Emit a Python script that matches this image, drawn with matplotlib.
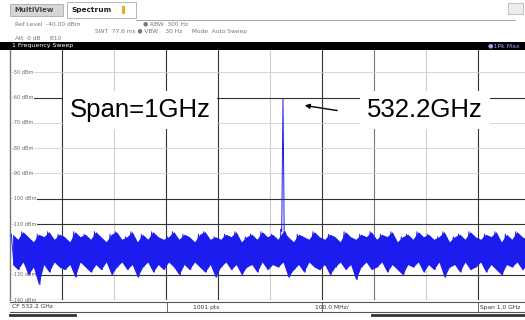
import matplotlib.pyplot as plt
import matplotlib.patches as patches
import numpy as np

W, H = 525, 320

# sweep settings
center_ghz = 532.2
span_ghz = 1.0
ref_level = -41.2
grid_db = [-50, -60, -70, -80, -90, -100, -110, -120, -130, -140]
grid_labels = ['-50 dBm', '-60 dBm', '-70 dBm', '-80 dBm', '-90 dBm',
               '-100 dBm', '-110 dBm', '-120 dBm', '-130 dBm', '-140 dBm']

# noise floor envelope per 10 MHz bin (max / min of the trace, dBm)
noise_hi = [-114, -116, -113, -115, -117, -114, -115, -113, -116, -114,
            -115, -117, -113, -115, -114, -116, -113, -115, -117, -114,
            -113, -116, -115, -113, -117, -114, -116, -113, -115, -116,
            -115, -113, -116, -114, -115, -117, -114, -113, -116, -115,
            -116, -114, -115, -113, -117, -115, -114, -116, -113, -115,
            -114, -116, -113, -115, -117, -114, -115, -116, -113, -115,
            -116, -114, -115, -117, -113, -115, -116, -114, -115, -113,
            -116, -114, -115, -113, -117, -115, -114, -116, -113, -115,
            -114, -116, -115, -113, -117, -115, -114, -116, -113, -115,
            -116, -114, -115, -113, -117, -114, -116, -113, -115, -116]
noise_lo = [-126, -128, -125, -130, -127, -134, -126, -129, -125, -127,
            -128, -126, -131, -125, -127, -129, -126, -128, -125, -130,
            -127, -125, -128, -126, -131, -127, -125, -129, -126, -128,
            -125, -127, -130, -126, -128, -125, -127, -129, -126, -131,
            -127, -125, -128, -126, -130, -127, -126, -129, -125, -128,
            -126, -127, -125, -131, -128, -126, -129, -125, -127, -128,
            -126, -130, -127, -125, -128, -126, -132, -127, -125, -128,
            -127, -125, -129, -126, -128, -130, -126, -127, -125, -129,
            -126, -128, -125, -131, -127, -126, -129, -125, -128, -127,
            -125, -129, -126, -128, -130, -126, -127, -125, -128, -126]

# carrier line
peak_freq = [532.221, 532.2235, 532.225, 532.2265, 532.229]
peak_level = [-112, -92, -60.5, -94, -113]

fig = plt.figure(figsize=(W / 100, H / 100), dpi=100)
fig.patch.set_facecolor('white')


def fx(x):
    return x / W


def fy(y):
    return 1 - y / H


def rect(x0, y0, x1, y1, **kw):
    fig.patches.append(patches.Rectangle((fx(x0), fy(y1)), (x1 - x0) / W, (y1 - y0) / H,
                                         transform=fig.transFigure, **kw))


def hline(x0, x1, y, **kw):
    fig.add_artist(plt.Line2D([fx(x0), fx(x1)], [fy(y), fy(y)], transform=fig.transFigure, **kw))


def vline(x, y0, y1, **kw):
    fig.add_artist(plt.Line2D([fx(x), fx(x)], [fy(y0), fy(y1)], transform=fig.transFigure, **kw))


small = dict(fontsize=4.2, color='#777777', family='DejaVu Sans', va='center')

# tabs
rect(10, 4, 63, 16, facecolor='#d6d6d6', edgecolor='#aaaaaa', lw=0.6)
fig.text(fx(14), fy(10), 'MultiView', fontsize=5, weight='bold', color='#444444', va='center')
rect(67, 2, 136, 18, facecolor='white', edgecolor='#aaaaaa', lw=0.6)
fig.text(fx(72), fy(10), 'Spectrum', fontsize=5.3, weight='bold', color='#222222', va='center')
rect(122, 6, 125, 14, facecolor='#e0b020', edgecolor='none')
hline(136, 515, 20, color='#999999', lw=0.6)
rect(508, 3, 523, 14, facecolor='#eeeeee', edgecolor='#aaaaaa', lw=0.5)

# measurement settings
fig.text(fx(15), fy(25), 'Ref Level  -40.00 dBm', **small)
fig.text(fx(143), fy(24), '\u25cf RBW  300 Hz', **small)
fig.text(fx(95), fy(31), 'SWT  77.6 ms \u25cf VBW    30 Hz     Mode  Auto Sweep', **small)
fig.text(fx(15), fy(38), 'Att  0 dB     B10', **small)

# window header
rect(0, 42, W, 50, facecolor='black', edgecolor='none')
fig.text(fx(12), fy(46), '1 Frequency Sweep', fontsize=4.5, color='white', va='center')
fig.text(fx(520), fy(46), '\u25cf1Pk Max', fontsize=4.5, color='#9aa0ff', va='center', ha='right')

# trace window (right edge runs past the screen)
ax = fig.add_axes([fx(10), fy(300), 520 / W, 250 / H])
f0 = center_ghz - span_ghz / 2
f1 = center_ghz + span_ghz / 2
ax.set_xlim(f0, f1)
ax.set_ylim(grid_db[-1], ref_level)
ax.set_xticks([])
ax.set_yticks([])
for s in ax.spines.values():
    s.set_visible(False)
ax.spines['left'].set_visible(True)
ax.spines['left'].set_color('#777777')
ax.spines['left'].set_linewidth(1.0)

div = span_ghz / 10
v_shade = ['#333333', '#cfcfcf', '#333333', '#333333', '#cfcfcf',
           '#333333', '#777777', '#cfcfcf', '#333333']
for k in range(1, 10):
    ax.axvline(f0 + k * div, color=v_shade[k - 1], lw=0.8, zorder=1)
h_shade = ['#d0d0d0', '#333333', '#d0d0d0', '#d0d0d0', '#d0d0d0',
           '#333333', '#333333', '#d0d0d0', '#333333', '#333333']
for lvl, c, lab in zip(grid_db, h_shade, grid_labels):
    ax.axhline(lvl, color=c, lw=0.8 if c == '#333333' else 0.6, zorder=1)
    ax.text(f0 + 0.004, lvl, lab, fontsize=3.6, color='#666666', va='center', ha='left',
            bbox=dict(facecolor='white', edgecolor='none', pad=0.6), zorder=2)

# trace: min/max band of each bin plus a zigzag through them, carrier merged in
blue = '#1c1cee'
nb = len(noise_hi)
bin_w = span_ghz / nb
centers = f0 + bin_w * (np.arange(nb) + 0.5)
ax.fill_between(centers, noise_lo, noise_hi, color=blue, lw=0, zorder=3)
fq = f0 + bin_w * (np.arange(2 * nb) * 0.5 + 0.25)
lv = np.column_stack([noise_hi, noise_lo]).ravel().astype(float)
fq = np.concatenate([fq, peak_freq])
lv = np.concatenate([lv, peak_level])
order = np.argsort(fq)
ax.plot(fq[order], lv[order], color=blue, lw=0.7, zorder=3)

# annotations
big = dict(fontsize=18.5, family='Liberation Sans', color='black', va='center', ha='center',
           transform=fig.transFigure, zorder=5,
           bbox=dict(facecolor='white', edgecolor='none', pad=5))
ax.text(fx(140), fy(110), 'Span=1GHz', **big)
ax.text(fx(425), fy(110), '532.2GHz', **big)
ax.annotate('', xy=(fx(302), fy(105)), xytext=(fx(340), fy(111)),
            xycoords='figure fraction', textcoords='figure fraction',
            arrowprops=dict(arrowstyle='-|>', color='black', lw=1.0, mutation_scale=7))

# footer
hline(10, W, 302, color='#555555', lw=0.8)
hline(10, W, 312, color='#555555', lw=0.8)
hline(10, 75, 315, color='#333333', lw=2.0)
hline(372, W, 315, color='#333333', lw=2.0)
for x in [167, 322, 478]:
    vline(x, 302, 312, color='#555555', lw=0.6)
foot = dict(fontsize=4.3, color='#333333', va='center')
fig.text(fx(12), fy(307), 'CF 532.2 GHz', **foot)
fig.text(fx(193), fy(307), '1001 pts', **foot)
fig.text(fx(315), fy(307), '100.0 MHz/', **foot)
fig.text(fx(480), fy(307), 'Span 1.0 GHz', **foot)

fig.savefig('out.png', dpi=100)
